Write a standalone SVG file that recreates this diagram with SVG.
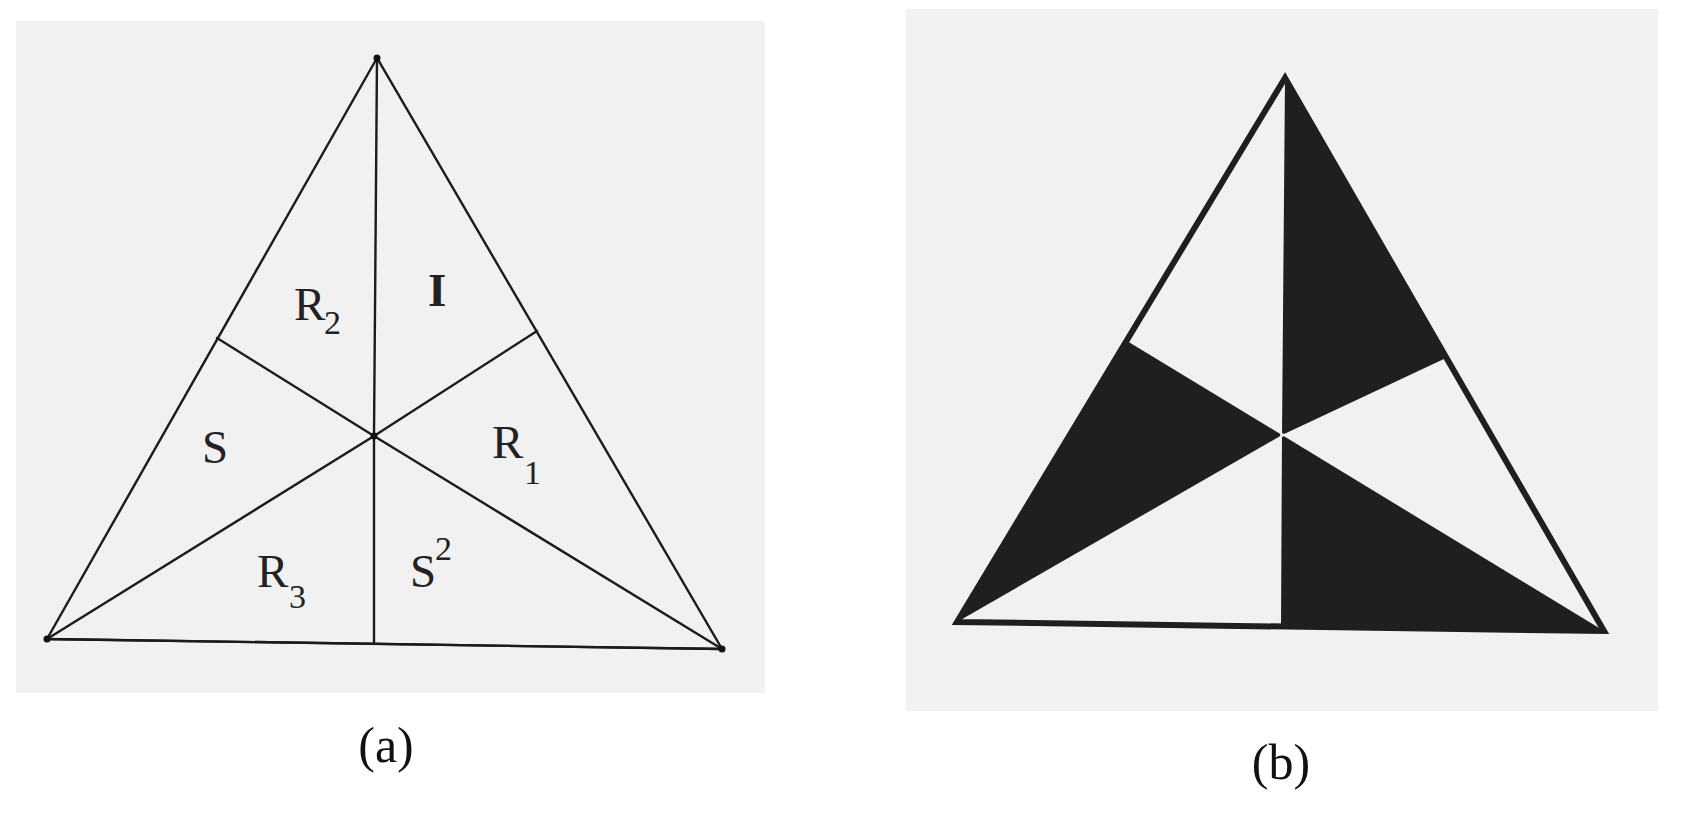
<svg xmlns="http://www.w3.org/2000/svg" width="1682" height="824" viewBox="0 0 1682 824">
<style>
.panel{fill:#f1f1f1}
.ln{stroke:#1c1c1c;stroke-width:2.4;fill:none;stroke-linecap:round}
.lbl{font-family:"Liberation Serif","Times New Roman",serif;font-size:47px;fill:#222}
.sub{font-family:"Liberation Serif","Times New Roman",serif;font-size:34px;fill:#222}
.cap{font-family:"Liberation Serif","Times New Roman",serif;font-size:50px;fill:#111;text-anchor:middle}
.blk{fill:#1f1f1f}
.thick{stroke:#1f1f1f;stroke-width:6;fill:none;stroke-linejoin:miter;stroke-miterlimit:10}
</style>
<rect width="1682" height="824" fill="#ffffff"/>
<g id="panel-a">
<rect class="panel" x="16" y="21" width="749" height="672"/>
<g id="connectors-a">
<polygon class="ln" points="377,58 47,639 722,649"/>
<line class="ln" x1="47" y1="639" x2="722" y2="649" stroke-width="3.2"/>
<polyline class="ln" points="377,58 374,436 374,644"/>
<polyline class="ln" points="217,338 374,436 722,649"/>
<polyline class="ln" points="537,331 374,436 47,639"/>
</g>
<g id="vertices-a" fill="#111">
<circle cx="377" cy="58" r="3.5"/>
<circle cx="47" cy="639" r="3.5"/>
<circle cx="722" cy="649" r="3.5"/>
<circle cx="374" cy="436" r="3.5"/>
</g>
<g id="label-R2"><text class="lbl" x="294" y="320">R</text><text class="sub" x="324" y="334">2</text></g>
<g id="label-I"><text class="lbl" x="428" y="306" font-size="41" font-weight="bold">I</text></g>
<g id="label-S"><text class="lbl" x="202" y="463">S</text></g>
<g id="label-R1"><text class="lbl" x="492" y="458">R</text><text class="sub" x="524" y="484">1</text></g>
<g id="label-R3"><text class="lbl" x="257" y="587">R</text><text class="sub" x="289" y="608">3</text></g>
<g id="label-S2"><text class="lbl" x="410" y="587">S</text><text class="sub" x="435" y="560">2</text></g>
<text class="cap" x="386" y="762">(a)</text>
</g>
<g id="panel-b">
<rect class="panel" x="906" y="9" width="752" height="702"/>
<g id="regions-b">
<polygon class="blk" points="1285,78 1282,435 1446,358"/>
<polygon class="blk" points="1127,341 1282,435 957,622"/>
<polygon class="blk" points="1282,435 1281,626.5 1604,631"/>
</g>
<g id="outline-b">
<polygon class="thick" points="1285,78 957,622 1604,631"/>
</g>
<circle cx="1282" cy="435" r="2" fill="#eeeeee"/>
<text class="cap" x="1281" y="779">(b)</text>
</g>
</svg>
